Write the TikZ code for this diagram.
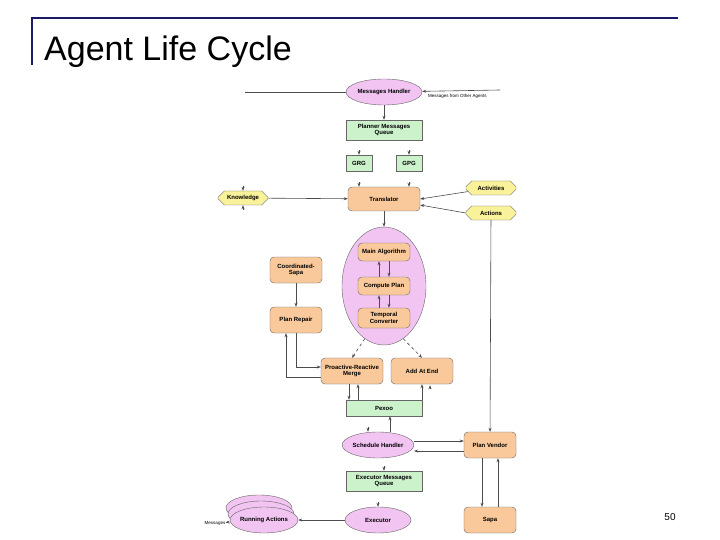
\documentclass[tikz,border=0pt]{standalone}
\usepackage{fontspec}
\setmainfont{Liberation Sans}
\usetikzlibrary{shapes.geometric,shapes.misc,arrows.meta}
\definecolor{pk}{HTML}{F2C4F2}
\definecolor{gr}{HTML}{CCF2CC}
\definecolor{og}{HTML}{F9C99B}
\definecolor{yl}{HTML}{F9F29A}
\definecolor{nv}{HTML}{1A1A66}
\begin{document}
\begin{tikzpicture}[x=1pt,y=-1pt,
 lab/.style={font=\fontsize{6}{6.5}\selectfont\bfseries,align=center,inner sep=0pt},
 ell/.style={lab,ellipse,draw=gray!80!black,fill=pk,minimum width=66,minimum height=26},
 grn/.style={lab,rectangle,draw=gray!80!black,fill=gr,minimum width=76,minimum height=20},
 org/.style={lab,rectangle,rounded corners=4,draw=gray!80!black,fill=og,minimum width=52,minimum height=26},
 oct/.style={lab,draw=gray!80!black,fill=yl,chamfered rectangle,chamfered rectangle xsep=4pt,chamfered rectangle ysep=3.5pt,minimum width=50,minimum height=14},
 ar/.style={-{Stealth[length=4pt,width=3pt]},draw=gray!60!black,line width=0.6pt}]
\useasboundingbox (0,0) rectangle (720,540);
\fill[white] (0,0) rectangle (720,540);
\draw[nv,line width=2pt] (32,65) -- (32,18) -- (678,18);
\node[anchor=west,inner sep=0pt,font=\fontsize{34}{36}\selectfont] (title) at (44,52) {Agent Life Cycle};
\node[inner sep=0pt,font=\fontsize{10}{11}\selectfont] (pg) at (670,517) {50};

\node[ell,minimum width=76] (mh) at (384,92) {Messages Handler};
\coordinate (mhl) at (245,92);
\coordinate (mhr) at (500,90);
\node[lab,font=\fontsize{4.5}{5}\selectfont,anchor=west] (mfo) at (428,96) {Messages from Other Agents};
\node[grn] (pmq) at (384,130) {Planner Messages\\Queue};
\node[grn,minimum width=26,minimum height=16] (grg) at (359,163) {GRG};
\node[grn,minimum width=26,minimum height=16] (gpg) at (409,163) {GPG};
\node[org,minimum width=72,minimum height=24] (tr) at (384,199) {Translator};
\node[oct] (kn) at (243,198) {Knowledge};
\node[oct] (act) at (491,188) {Activities};
\node[oct] (acs) at (491,213) {Actions};

\node[ellipse,draw=gray!80!black,fill=pk,minimum width=84,minimum height=118] (big) at (384,286) {};
\node[org,minimum height=18] (ma) at (384,252) {Main Algorithm};
\node[org,minimum height=18] (cp) at (384,286) {Compute Plan};
\node[org,minimum height=20] (tc) at (384,318) {Temporal\\Converter};
\node[org] (cs) at (296,270) {Coordinated-\\Sapa};
\node[org] (prp) at (296,320) {Plan Repair};
\node[org,minimum width=62] (prm) at (352,371) {Proactive-Reactive\\Merge};
\node[org,minimum width=62] (aae) at (422,371) {Add At End};
\node[grn,minimum height=16] (px) at (384,408) {Pexoo};
\node[ell] (sh) at (378,445) {Schedule Handler};
\node[org] (pv) at (490,445) {Plan Vendor};
\node[grn] (emq) at (384,481) {Executor Messages\\Queue};
\node[ell] (ex) at (378,520) {Executor};
\node[org] (sp) at (490,520) {Sapa};
\node[ell] (ra3) at (259,508) {};
\node[ell] (ra2) at (261,514) {};
\node[ell] (ra) at (264,520) {Running Actions};
\node[lab,font=\fontsize{4.5}{5}\selectfont\mdseries] (msg) at (215,523) {Messages};

\draw[draw=gray!60!black,line width=0.6pt] (mhl) -- (mh);
\draw[ar] (mhr) -- (mh);
\draw[ar] (mh) -- (pmq);
\draw[ar] ([yshift=5]grg.north) -- (grg.north);
\draw[ar] ([yshift=5]gpg.north) -- (gpg.north);
\draw[ar] ([yshift=5]tr.north-|grg) -- (tr.north-|grg);
\draw[ar] ([yshift=5]tr.north-|gpg) -- (tr.north-|gpg);
\draw[ar] ([yshift=5]kn.north) -- (kn.north);
\draw[ar] ([yshift=-5]kn.south) -- (kn.south);
\draw[ar] (kn) -- (tr);
\draw[ar] (act) -- (tr.east);
\draw[ar] (acs.west) -- ([yshift=-6]tr.east);
\draw[ar] (acs) -- (pv);
\draw[ar] (tr) -- (big);
\draw[ar] ([xshift=-5]cp.north) -- ([xshift=-5]ma.south);
\draw[ar] ([xshift=5]ma.south) -- ([xshift=5]cp.north);
\draw[ar] ([xshift=-5]tc.north) -- ([xshift=-5]cp.south);
\draw[ar] ([xshift=5]cp.south) -- ([xshift=5]tc.north);
\draw[ar,dashed] (big.250) -- (prm.north);
\draw[ar,dashed] (big.290) -- (aae.north);
\draw[ar] (cs) -- (prp);
\draw[ar] (prp.south) |- ([yshift=4]prm.west);
\draw[ar] ([yshift=-6]prm.west) -| ([xshift=-10]prp.south);
\draw[ar] ([xshift=-3]prm.south) -- ([xshift=-3]prm.south|-px.north);
\draw[ar] ([xshift=6]prm.south|-px.north) -- ([xshift=6]prm.south);
\draw[ar] (aae.south|-px.north) -- (aae.south);
\draw[ar] ([xshift=8,yshift=-5]aae.south) -- ([xshift=8,yshift=-1]aae.south);
\draw[ar] ([xshift=-10,yshift=5]sh.north) -- ([xshift=-10]sh.north);
\draw[ar] ([xshift=12]sh.north) -- ([xshift=12]sh.north|-px.south);
\draw[ar] ([yshift=4]sh.east) -- ([yshift=4]pv.west);
\draw[ar] ([yshift=-6]pv.west) -- ([yshift=-6]sh.east);
\draw[ar] ([yshift=5]emq.north) -- (emq.north);
\draw[ar] ([yshift=5]ex.north) -- (ex.north);
\draw[ar] ([xshift=-8]pv.south) -- ([xshift=-8]sp.north);
\draw[ar] ([xshift=8]sp.north) -- ([xshift=8]pv.south);
\draw[ar] (ex) -- (ra);
\draw[ar] (ra) -- (msg);
\end{tikzpicture}
\end{document}
